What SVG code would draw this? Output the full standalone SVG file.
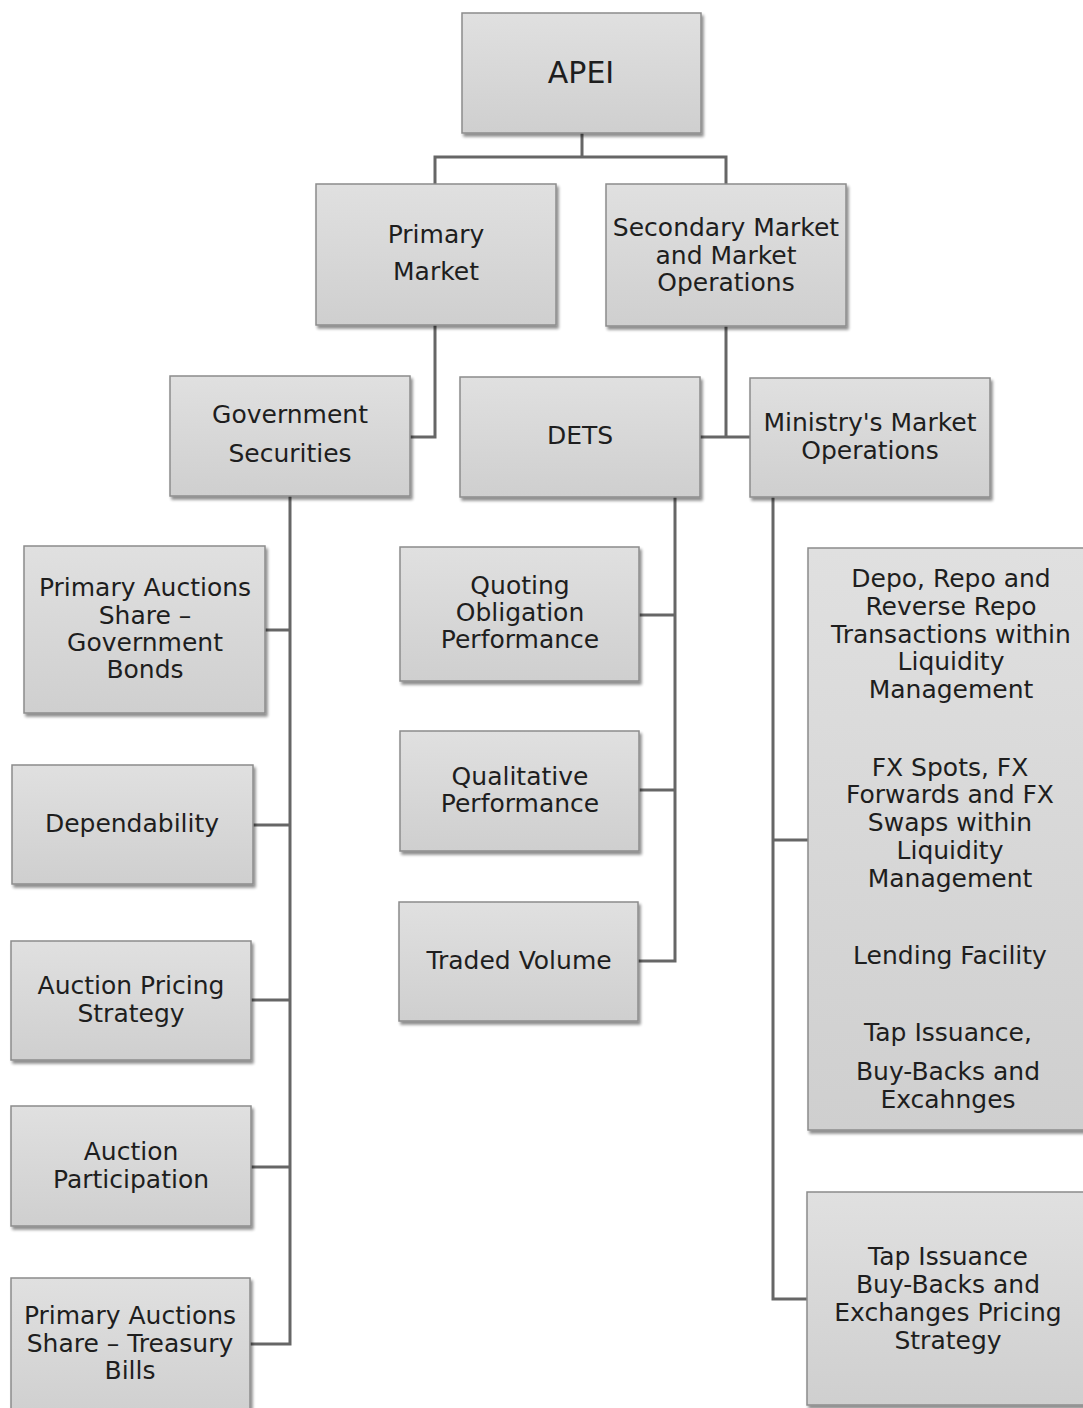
<svg xmlns="http://www.w3.org/2000/svg" width="1083" height="1408" viewBox="0 0 1083 1408">
<defs>
<linearGradient id="g" x1="0" y1="0" x2="0" y2="1">
<stop offset="0" stop-color="#e0e0e0"/>
<stop offset="1" stop-color="#cfcfcf"/>
</linearGradient>
<filter id="sh" x="-5%" y="-5%" width="115%" height="115%">
<feGaussianBlur in="SourceAlpha" stdDeviation="1.5"/>
<feOffset dx="2" dy="3"/>
<feComponentTransfer><feFuncA type="linear" slope="0.45"/></feComponentTransfer>
<feMerge><feMergeNode/><feMergeNode in="SourceGraphic"/></feMerge>
</filter>
</defs>
<style>
.box{fill:url(#g);stroke:#8c8c8c;stroke-width:1.5;filter:url(#sh)}
.t{font-family:"DejaVu Sans",Verdana,sans-serif;font-size:25px;fill:#1e1e1e;text-anchor:middle}
.big{font-size:30px}
.c{fill:none;stroke:#666;stroke-width:3}
</style>
<rect width="1083" height="1408" fill="#fff"/>
<g id="connectors">
<path class="c" d="M582 133V157M435 184V157H726V184"/>
<path class="c" d="M435 325V437H410"/>
<path class="c" d="M726 326V437M700 437H750"/>
<path class="c" d="M290 496V1344H250M265 630H290M253 825H290M251 1000H290M251 1167H290"/>
<path class="c" d="M675 497V961H638M639 615H675M639 790H675"/>
<path class="c" d="M773 497V1299H807M773 840H808"/>
</g>
<g id="apei"><rect class="box" x="462" y="13" width="239" height="120"/><text class="t big" x="581" y="83">APEI</text></g>
<g id="primary-market"><rect class="box" x="316" y="184" width="240" height="141"/><text class="t" x="436" y="243">Primary</text><text class="t" x="436" y="280">Market</text></g>
<g id="secondary-market"><rect class="box" x="606" y="184" width="240" height="142"/><text class="t" x="726" y="236">Secondary Market</text><text class="t" x="726" y="264">and Market</text><text class="t" x="726" y="291">Operations</text></g>
<g id="government-securities"><rect class="box" x="170" y="376" width="240" height="120"/><text class="t" x="290" y="423">Government</text><text class="t" x="290" y="462">Securities</text></g>
<g id="dets"><rect class="box" x="460" y="377" width="240" height="120"/><text class="t" x="580" y="444">DETS</text></g>
<g id="ministry"><rect class="box" x="750" y="378" width="240" height="119"/><text class="t" x="870" y="431">Ministry's Market</text><text class="t" x="870" y="459">Operations</text></g>
<g id="pas-bonds"><rect class="box" x="24" y="546" width="241" height="167"/><text class="t" x="145" y="596">Primary Auctions</text><text class="t" x="145" y="624">Share –</text><text class="t" x="145" y="651">Government</text><text class="t" x="145" y="678">Bonds</text></g>
<g id="dependability"><rect class="box" x="12" y="765" width="241" height="119"/><text class="t" x="132" y="832">Dependability</text></g>
<g id="auction-pricing"><rect class="box" x="11" y="941" width="240" height="119"/><text class="t" x="131" y="994">Auction Pricing</text><text class="t" x="131" y="1022">Strategy</text></g>
<g id="auction-participation"><rect class="box" x="11" y="1106" width="240" height="120"/><text class="t" x="131" y="1160">Auction</text><text class="t" x="131" y="1188">Participation</text></g>
<g id="pas-bills"><rect class="box" x="11" y="1278" width="239" height="140"/><text class="t" x="130" y="1324">Primary Auctions</text><text class="t" x="130" y="1352">Share – Treasury</text><text class="t" x="130" y="1379">Bills</text></g>
<g id="quoting"><rect class="box" x="400" y="547" width="239" height="134"/><text class="t" x="520" y="594">Quoting</text><text class="t" x="520" y="621">Obligation</text><text class="t" x="520" y="648">Performance</text></g>
<g id="qualitative"><rect class="box" x="400" y="731" width="239" height="120"/><text class="t" x="520" y="785">Qualitative</text><text class="t" x="520" y="812">Performance</text></g>
<g id="traded-volume"><rect class="box" x="399" y="902" width="239" height="119"/><text class="t" x="519" y="969">Traded Volume</text></g>
<g id="liquidity"><rect class="box" x="808" y="548" width="280" height="582"/>
<text class="t" x="951" y="587">Depo, Repo and</text><text class="t" x="951" y="615">Reverse Repo</text><text class="t" x="951" y="643">Transactions within</text><text class="t" x="951" y="670">Liquidity</text><text class="t" x="951" y="698">Management</text>
<text class="t" x="950" y="776">FX Spots, FX</text><text class="t" x="950" y="803">Forwards and FX</text><text class="t" x="950" y="831">Swaps within</text><text class="t" x="950" y="859">Liquidity</text><text class="t" x="950" y="887">Management</text>
<text class="t" x="950" y="964">Lending Facility</text>
<text class="t" x="948" y="1041">Tap Issuance,</text><text class="t" x="948" y="1080">Buy-Backs and</text><text class="t" x="948" y="1108">Excahnges</text></g>
<g id="tap-pricing"><rect class="box" x="807" y="1192" width="280" height="213"/><text class="t" x="948" y="1265">Tap Issuance</text><text class="t" x="948" y="1293">Buy-Backs and</text><text class="t" x="948" y="1321">Exchanges Pricing</text><text class="t" x="948" y="1349">Strategy</text></g>
</svg>
